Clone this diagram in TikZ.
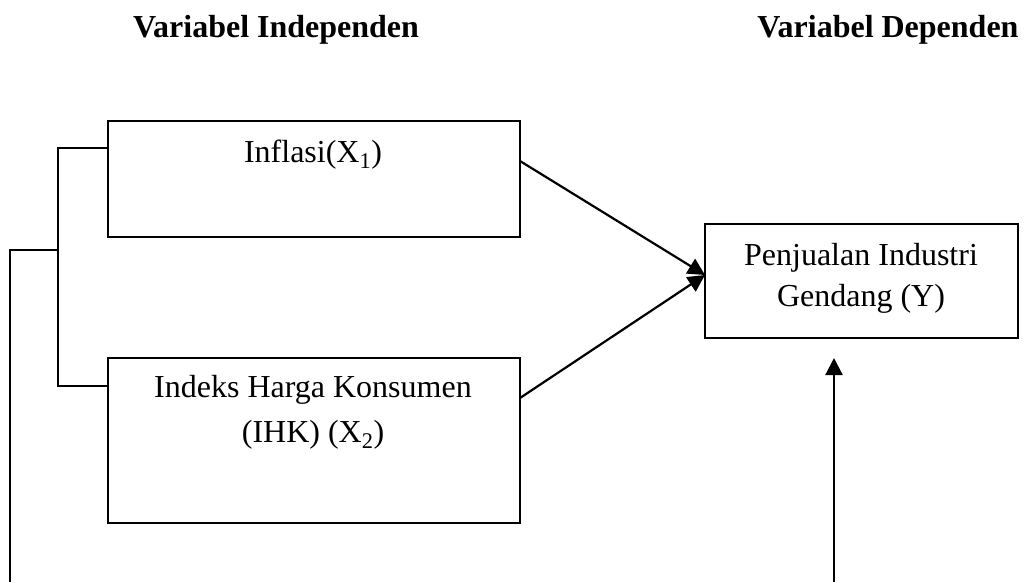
\documentclass[tikz,border=0pt]{standalone}
\usepackage{fontspec}
\setmainfont{Liberation Serif}
\usetikzlibrary{arrows.meta,calc}
\begin{document}
\begin{tikzpicture}[x=1pt,y=-1pt,
  boxstyle/.style={draw,line width=2pt,inner sep=0pt,outer sep=0pt},
  txt/.style={font=\fontsize{32}{40}\selectfont,inner sep=0pt,anchor=base},
  ttl/.style={font=\fontsize{32}{40}\selectfont\bfseries,inner sep=0pt,anchor=base},
  conn/.style={line width=2pt},
  arr/.style={line width=2.2pt,-{Triangle[length=17pt,width=17pt]}}]
\useasboundingbox (0,0) rectangle (1025,582);
% titles
\node[ttl] (t1) at (276,37) {Variabel Independen};
\node[ttl] (t2) at (888,37) {Variabel Dependen};
% boxes
\node[boxstyle,minimum width=412pt,minimum height=116pt] (box1) at (314,179) {};
\node[boxstyle,minimum width=412pt,minimum height=165pt] (box2) at (314,440.5) {};
\node[boxstyle,minimum width=313pt,minimum height=114pt] (box3) at (861.5,281) {};
% texts
\node[txt] (l1) at (313,162) {Inflasi(X\textsubscript{1})};
\node[txt] (l2a) at (313,397) {Indeks Harga Konsumen};
\node[txt] (l2b) at (313,442) {(IHK) (X\textsubscript{2})};
\node[txt] (l3a) at (861,265) {Penjualan Industri};
\node[txt] (l3b) at (861,306) {Gendang (Y)};
% connector points
\coordinate (a1) at ($(box1.north east)+(0,40)$);
\coordinate (a2) at ($(box2.north east)+(0,40)$);
\coordinate (tgt) at ($(box3.north west)+(0,51)$);
\coordinate (bl1) at ($(box1.north west)+(0,27)$);
\coordinate (bl2) at ($(box2.north west)+(0,28)$);
\coordinate (j1) at (58,148);
\coordinate (j2) at (58,386);
\coordinate (jm) at (58,250);
\coordinate (lt) at (10,250);
\coordinate (lb) at (10,582);
\coordinate (ub) at (834,582);
\coordinate (ut) at (834,358);
% arrows
\draw[arr] (a1) -- (tgt);
\draw[arr] (a2) -- (tgt);
\draw[arr] (ub) -- (ut);
% bracket
\draw[conn] (bl1) -- (j1) -- (j2) -- (bl2);
\draw[conn] (jm) -- (lt) -- (lb);
\end{tikzpicture}
\end{document}
